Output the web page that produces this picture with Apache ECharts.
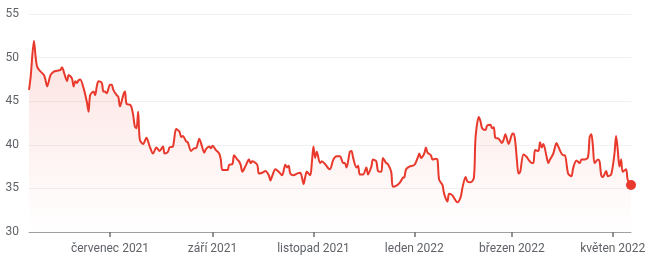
<!DOCTYPE html>
<html>
<head>
<meta charset="utf-8">
<script src="https://cdn.jsdelivr.net/npm/echarts@6/dist/echarts.min.js"></script>
<style>
html,body{margin:0;padding:0;background:#fff;}
#c{width:650px;height:265px;}
</style>
</head>
<body>
<div id="c"></div>
<script>
const dates = [
'2021-05-13','2021-05-14','2021-05-16','2021-05-17','2021-05-18','2021-05-20','2021-05-22','2021-05-23','2021-05-24','2021-05-26','2021-05-28','2021-05-30',
'2021-06-01','2021-06-02','2021-06-03','2021-06-05','2021-06-06','2021-06-08','2021-06-09','2021-06-10','2021-06-11','2021-06-12','2021-06-13','2021-06-15','2021-06-17','2021-06-18','2021-06-19','2021-06-21','2021-06-22','2021-06-23','2021-06-24','2021-06-26','2021-06-27','2021-06-28','2021-06-29',
'2021-07-01','2021-07-02','2021-07-03','2021-07-05','2021-07-06','2021-07-07','2021-07-09','2021-07-10','2021-07-11','2021-07-13','2021-07-14','2021-07-15','2021-07-16','2021-07-17','2021-07-18','2021-07-19','2021-07-21','2021-07-23','2021-07-25','2021-07-27','2021-07-29','2021-07-31',
'2021-08-02','2021-08-03','2021-08-05','2021-08-06','2021-08-08','2021-08-10','2021-08-12','2021-08-13','2021-08-14','2021-08-16','2021-08-17','2021-08-19','2021-08-21','2021-08-22','2021-08-24','2021-08-25','2021-08-27','2021-08-28','2021-08-30','2021-08-31',
'2021-09-01','2021-09-03','2021-09-05','2021-09-06','2021-09-07','2021-09-10','2021-09-11','2021-09-13','2021-09-14','2021-09-16','2021-09-17','2021-09-18','2021-09-19','2021-09-21','2021-09-23','2021-09-24','2021-09-25','2021-09-28','2021-09-29',
'2021-10-01','2021-10-03','2021-10-05','2021-10-06','2021-10-07','2021-10-09','2021-10-11','2021-10-13','2021-10-15','2021-10-16','2021-10-17','2021-10-18','2021-10-20','2021-10-22','2021-10-24','2021-10-25','2021-10-26','2021-10-27','2021-10-28','2021-10-30','2021-10-31',
'2021-11-01','2021-11-02','2021-11-03','2021-11-05','2021-11-06','2021-11-08','2021-11-10','2021-11-11','2021-11-13','2021-11-15','2021-11-17','2021-11-19','2021-11-20','2021-11-21','2021-11-23','2021-11-24','2021-11-25','2021-11-27','2021-11-28','2021-11-29',
'2021-12-01','2021-12-03','2021-12-04','2021-12-06','2021-12-07','2021-12-09','2021-12-10','2021-12-12','2021-12-13','2021-12-15','2021-12-16','2021-12-18','2021-12-19','2021-12-21','2021-12-23','2021-12-25','2021-12-26','2021-12-27','2021-12-29',
'2022-01-01','2022-01-03','2022-01-04','2022-01-05','2022-01-07','2022-01-08','2022-01-09','2022-01-11','2022-01-12','2022-01-14','2022-01-15','2022-01-16','2022-01-18','2022-01-19','2022-01-21','2022-01-22','2022-01-24','2022-01-27','2022-01-29','2022-01-30',
'2022-02-01','2022-02-02','2022-02-04','2022-02-06','2022-02-07','2022-02-09','2022-02-10','2022-02-11','2022-02-13','2022-02-14','2022-02-16','2022-02-17','2022-02-18','2022-02-19','2022-02-21','2022-02-23','2022-02-24','2022-02-25','2022-02-27',
'2022-03-01','2022-03-02','2022-03-03','2022-03-04','2022-03-05','2022-03-06','2022-03-08','2022-03-10','2022-03-11','2022-03-13','2022-03-14','2022-03-15','2022-03-17','2022-03-18','2022-03-19','2022-03-20','2022-03-22','2022-03-23','2022-03-24','2022-03-26','2022-03-28','2022-03-29',
'2022-04-01','2022-04-02','2022-04-04','2022-04-06','2022-04-07','2022-04-09','2022-04-11','2022-04-12','2022-04-14','2022-04-16','2022-04-17','2022-04-18','2022-04-19','2022-04-20','2022-04-22','2022-04-23','2022-04-24','2022-04-25','2022-04-27','2022-04-28','2022-04-30',
'2022-05-02','2022-05-03','2022-05-04','2022-05-05','2022-05-06','2022-05-07','2022-05-09','2022-05-10','2022-05-12'
];
const values = [
46.3,47.8,51.9,50.1,48.9,48.4,48.0,47.4,46.7,48.0,48.4,48.5,
48.6,48.9,48.4,47.3,48.0,47.6,46.7,47.3,47.1,47.4,47.5,46.5,44.9,43.8,45.7,46.1,45.7,46.7,47.3,47.1,46.1,46.1,45.9,
46.9,46.9,46.3,45.7,45.5,44.4,45.7,46.1,44.7,44.6,44.3,43.4,42.1,41.9,43.8,40.6,40.1,40.8,39.8,39.0,39.7,39.3,
39.8,39.0,39.2,39.7,39.8,41.8,41.5,40.9,41.0,40.4,40.3,39.3,39.6,39.6,40.7,40.2,39.1,39.5,39.8,39.6,
39.9,39.4,39.0,38.3,37.1,37.1,37.7,37.8,38.8,38.3,38.1,37.7,36.9,37.6,38.3,37.9,38.1,37.7,36.7,
36.8,37.0,36.5,35.9,36.4,37.2,36.9,36.5,37.7,37.4,37.6,36.7,36.5,36.7,36.8,36.3,35.5,36.3,36.9,36.5,37.9,
39.8,38.5,39.2,37.9,38.1,37.8,37.3,37.2,38.3,38.7,38.7,37.9,37.9,37.4,39.2,39.3,38.5,37.4,37.6,36.6,
36.6,37.4,36.6,37.5,38.3,38.1,37.0,36.9,38.5,37.9,37.8,36.9,35.2,35.3,35.6,36.2,36.3,37.2,37.5,
37.7,38.5,39.0,38.5,39.0,39.7,39.1,38.8,38.3,38.4,38.3,36.0,35.4,34.4,33.5,34.4,34.2,33.4,34.0,35.0,
36.3,35.8,35.7,36.2,40.8,43.2,42.7,41.9,41.7,42.2,42.3,41.9,42.0,40.8,40.7,40.2,40.6,41.2,40.1,
41.2,41.3,40.4,38.3,36.7,36.9,38.9,38.6,38.3,37.9,37.9,39.4,39.3,40.3,39.7,40.1,38.6,37.9,38.3,39.0,40.2,39.8,
38.8,38.8,36.7,36.4,37.3,38.2,37.9,38.3,38.3,38.6,40.9,41.2,39.8,37.9,38.3,38.1,36.5,36.3,37.0,36.4,36.6,
39.0,41.0,39.4,37.5,38.3,36.9,37.2,36.0,35.4
];
const tickDates = ['2021-07-01','2021-09-01','2021-11-01','2022-01-01','2022-03-01','2022-05-01'];
const monthNames = ['leden','únor','březen','duben','květen','červen','červenec','srpen','září','říjen','listopad','prosinec'];
const yTicks = [30,35,40,45,50,55];

const ts = s => { const p = s.split('-').map(Number); return Date.UTC(p[0], p[1]-1, p[2]); };
const seriesData = dates.map((d,i) => [ts(d), values[i]]);
const tickTs = tickDates.map(ts);
const lineColor = '#e8392c';

const chart = echarts.init(document.getElementById('c'), null, {renderer:'canvas'});
chart.setOption({
  animation:false,
  grid:{left:29, right:19, top:14, bottom:33, containLabel:false},
  xAxis:{
    type:'value',
    min: ts(dates[0]), max: ts(dates[dates.length-1]),
    axisLine:{show:true, lineStyle:{color:'#a0a0a0', width:1}},
    axisTick:{show:true, customValues: tickTs, length:5, lineStyle:{color:'#707070', width:1.5}},
    axisLabel:{customValues: tickTs, color:'#5f6368', fontSize:12, fontFamily:'Roboto', margin:11,
      showMinLabel:true, showMaxLabel:true,
      formatter: v => { const d = new Date(v); return monthNames[d.getUTCMonth()] + ' ' + d.getUTCFullYear(); }},
    splitLine:{show:false}
  },
  yAxis:{
    type:'value', min:yTicks[0], max:yTicks[yTicks.length-1], interval:5,
    axisLine:{show:false}, axisTick:{show:false},
    axisLabel:{color:'#5f6368', fontSize:12, fontFamily:'Roboto', margin:10},
    splitLine:{show:true, lineStyle:{color:'#f1f1f1', width:1}}
  },
  series:[{
    type:'line',
    data: seriesData,
    smooth:0.3,
    symbol:'none',
    lineStyle:{color:lineColor, width:2},
    areaStyle:{color:new echarts.graphic.LinearGradient(0,0,0,1,[
      {offset:0, color:'rgba(234,67,53,0.22)'},
      {offset:1, color:'rgba(234,67,53,0.0)'}
    ])},
    markPoint:{
      symbol:'circle', symbolSize:10,
      itemStyle:{color:lineColor},
      label:{show:false},
      data:[{coord: seriesData[seriesData.length-1]}]
    }
  }]
});
</script>
</body>
</html>
